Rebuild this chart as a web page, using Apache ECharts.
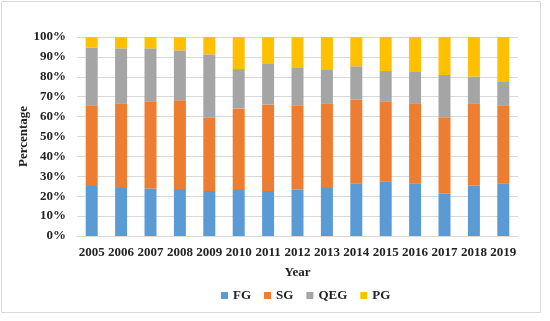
<!DOCTYPE html>
<html><head><meta charset="utf-8">
<script src="https://cdn.jsdelivr.net/npm/echarts@6/dist/echarts.min.js"></script>
<style>html,body{margin:0;padding:0;background:#fff}#c{width:550px;height:321px}</style>
</head><body><div id="c"></div>
<script>
var years = ['2005','2006','2007','2008','2009','2010','2011','2012','2013','2014','2015','2016','2017','2018','2019'];
var FG  = [25.6, 24.6, 23.9, 23.6, 22.6, 23.6, 22.6, 23.2, 24.6, 26.3, 27.3, 26.3, 21.2, 25.4, 26.3];
var SG  = [40.1, 41.8, 43.8, 44.6, 36.8, 40.4, 43.5, 42.2, 41.8, 42.3, 40.1, 40.4, 38.5, 41.3, 39.4];
var QEG = [28.9, 27.9, 26.6, 25.1, 31.9, 19.9, 20.7, 19.4, 17.4, 16.7, 15.5, 15.7, 21.2, 13.4, 11.7];
var PG  = [5.4, 5.7, 5.7, 6.7, 8.7, 16.1, 13.2, 15.2, 16.2, 14.7, 17.1, 17.6, 19.1, 19.9, 22.6];
var names = ['FG','SG','QEG','PG'];
var colors = ['#5B9BD5','#ED7D31','#A5A5A5','#FFC000'];
var font = 'Liberation Serif';
var chart = echarts.init(document.getElementById('c'));
var data = [FG, SG, QEG, PG];
chart.setOption({
  animation: false,
  graphic: [{type:'rect', shape:{x:1.5,y:1.5,width:539,height:311}, style:{fill:'none', stroke:'#D9D9D9', lineWidth:1}}],
  grid: {left:77, right:32, top:37, bottom:85},
  legend: {
    data: names, top: 284, left: 216, itemWidth: 7, itemHeight: 7, itemGap: 13,
    icon: 'rect',
    textStyle: {fontFamily: font, fontWeight: 'bold', fontSize: 13, color: '#222'}
  },
  xAxis: {
    type: 'category', data: years,
    name: 'Year', nameLocation: 'middle', nameGap: 30,
    nameTextStyle: {fontFamily: font, fontWeight: 'bold', fontSize: 13, color: '#222'},
    axisLine: {lineStyle: {color: '#D9D9D9'}},
    axisTick: {show: false},
    axisLabel: {fontFamily: font, fontWeight: 'bold', fontSize: 13, color: '#222', interval: 0, margin: 10}
  },
  yAxis: {
    type: 'value', min: 0, max: 100, interval: 10,
    name: 'Percentage', nameLocation: 'middle', nameGap: 47, nameMoveOverlap: false,
    nameTextStyle: {fontFamily: font, fontWeight: 'bold', fontSize: 13, color: '#222'},
    axisLine: {show: false}, axisTick: {show: false},
    splitLine: {lineStyle: {color: '#D9D9D9'}},
    axisLabel: {fontFamily: font, fontWeight: 'bold', fontSize: 13, color: '#222', formatter: '{value}%', margin: 11}
  },
  series: names.map(function(n, i){
    return {name: n, type: 'bar', stack: 'all', data: data[i], barWidth: 12,
      itemStyle: {color: colors[i]}};
  })
});
</script></body></html>
